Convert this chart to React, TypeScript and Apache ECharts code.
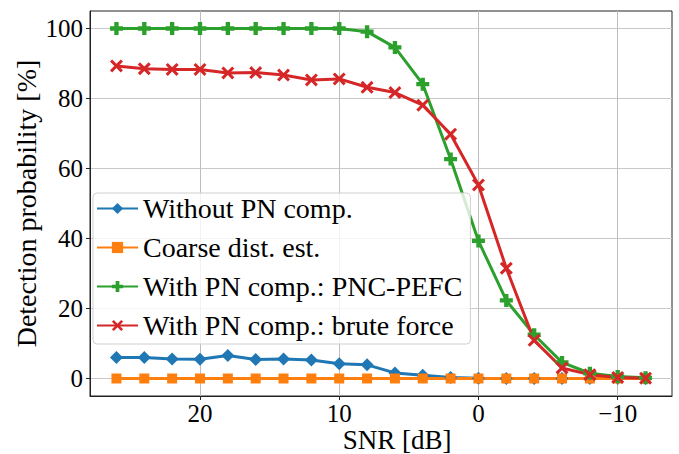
import React, { useEffect, useRef } from 'react';
import * as echarts from 'echarts';

const snr = [26, 24, 22, 20, 18, 16, 14, 12, 10, 8, 6, 4, 2, 0, -2, -4, -6, -8, -10, -12];
const withoutPN = [6.0, 6.0, 5.6, 5.5, 6.6, 5.4, 5.6, 5.3, 4.2, 3.9, 1.6, 0.9, 0.3, 0.1, 0, 0, 0, 0, 0, 0];
const coarseDist = [0, 0, 0, 0, 0, 0, 0, 0, 0, 0, 0, 0, 0, 0, 0, 0, 0, 0, 0, 0];
const pncPefc = [100, 100, 100, 100, 100, 100, 100, 100, 100, 99.1, 94.6, 84.1, 62.7, 39.3, 22.3, 12.5, 4.6, 1.5, 0.6, 0.2];
const bruteForce = [89.3, 88.5, 88.3, 88.3, 87.3, 87.4, 86.7, 85.3, 85.6, 83.2, 81.7, 78.1, 69.8, 55.3, 31.5, 10.9, 3.0, 1.1, 0.3, 0.1];

const xTicks = [20, 10, 0, -10];
const yTicks = [0, 20, 40, 60, 80, 100];

const seriesNames = [
  'Without PN comp.',
  'Coarse dist. est.',
  'With PN comp.: PNC-PEFC',
  'With PN comp.: brute force',
];

const FONT = '"Liberation Serif", "Times New Roman", serif';
const PLUS = 'path://M4,0H8V4H12V8H8V12H4V8H0V4H4Z';
const XMARK = 'path://M0,2L2,0L6,4L10,0L12,2L8,6L12,10L10,12L6,8L2,12L0,10L4,6Z';

export default function App() {
  const ref = useRef<HTMLDivElement>(null);
  useEffect(() => {
    const chart = echarts.init(ref.current!, null, { renderer: 'svg' });
    const mk = (name: string, vals: number[], color: string, symbol: string, size: number) => ({
      name,
      type: 'line',
      data: snr.map((x, i) => [x, vals[i]]),
      symbol,
      symbolSize: size,
      showAllSymbol: true,
      lineStyle: { color, width: 3 },
      itemStyle: { color, borderWidth: 0 },
      emphasis: { disabled: true },
    });
    chart.setOption({
      animation: false,
      backgroundColor: '#ffffff',
      grid: {
        left: 90,
        right: 7,
        top: 11,
        bottom: 58,
        outerBoundsMode: 'none',
        containLabel: false,
        show: true,
        borderColor: '#222',
        borderWidth: 1,
        backgroundColor: 'transparent',
      },
      legend: {
        orient: 'vertical',
        left: 93,
        top: 193,
        itemWidth: 41,
        itemHeight: 14,
        itemGap: 10,
        padding: [1, 8, 4, 3],
        backgroundColor: 'rgba(255,255,255,0.8)',
        borderColor: '#d0d0d0',
        borderWidth: 1,
        borderRadius: 4,
        textStyle: { fontFamily: FONT, fontSize: 28, color: '#000', lineHeight: 29 },
        data: seriesNames,
      },
      xAxis: {
        type: 'value',
        inverse: true,
        min: -13.9,
        max: 27.9,
        splitNumber: 4,
        name: 'SNR [dB]',
        nameLocation: 'middle',
        nameGap: 30,
        nameMoveOverlap: false,
        nameTextStyle: { fontFamily: FONT, fontSize: 27, lineHeight: 27, color: '#000', padding: [0, 0, 0, 32] },
        axisLine: { show: true, onZero: false, lineStyle: { color: '#222', width: 1 } },
        axisTick: { show: true, length: 4, customValues: xTicks, lineStyle: { color: '#222' } },
        axisLabel: {
          customValues: xTicks,
          margin: 5,
          fontFamily: FONT,
          fontSize: 25,
          color: '#000',
          formatter: (v: number) => (v < 0 ? '\u2212' + Math.abs(v) : String(v)),
        },
        splitLine: { show: true, lineStyle: { color: '#bdbdbd', width: 1 } },
      },
      yAxis: {
        type: 'value',
        min: -5,
        max: 105,
        name: 'Detection probability [%]',
        nameLocation: 'middle',
        nameGap: 50,
        nameMoveOverlap: false,
        nameTextStyle: { fontFamily: FONT, fontSize: 28, lineHeight: 28, color: '#000' },
        axisLine: { show: true, onZero: false, lineStyle: { color: '#222', width: 1 } },
        axisTick: { show: true, length: 4, customValues: yTicks, lineStyle: { color: '#222' } },
        axisLabel: {
          customValues: yTicks,
          margin: 7,
          fontFamily: FONT,
          fontSize: 25,
          color: '#000',
        },
        splitLine: { show: true, lineStyle: { color: '#c8c8c8', width: 1 } },
      },
      series: [
        mk(seriesNames[0], withoutPN, '#1f77b4', 'diamond', 13),
        mk(seriesNames[1], coarseDist, '#ff7f0e', 'rect', 10),
        mk(seriesNames[2], pncPefc, '#2ca02c', PLUS, 13),
        mk(seriesNames[3], bruteForce, '#d62728', XMARK, 13),
      ],
    });
    return () => chart.dispose();
  }, []);
  return (
    <div
      ref={ref}
      style={{ position: 'fixed', left: 0, top: 0, width: 679, height: 454, background: '#fff' }}
    />
  );
}
